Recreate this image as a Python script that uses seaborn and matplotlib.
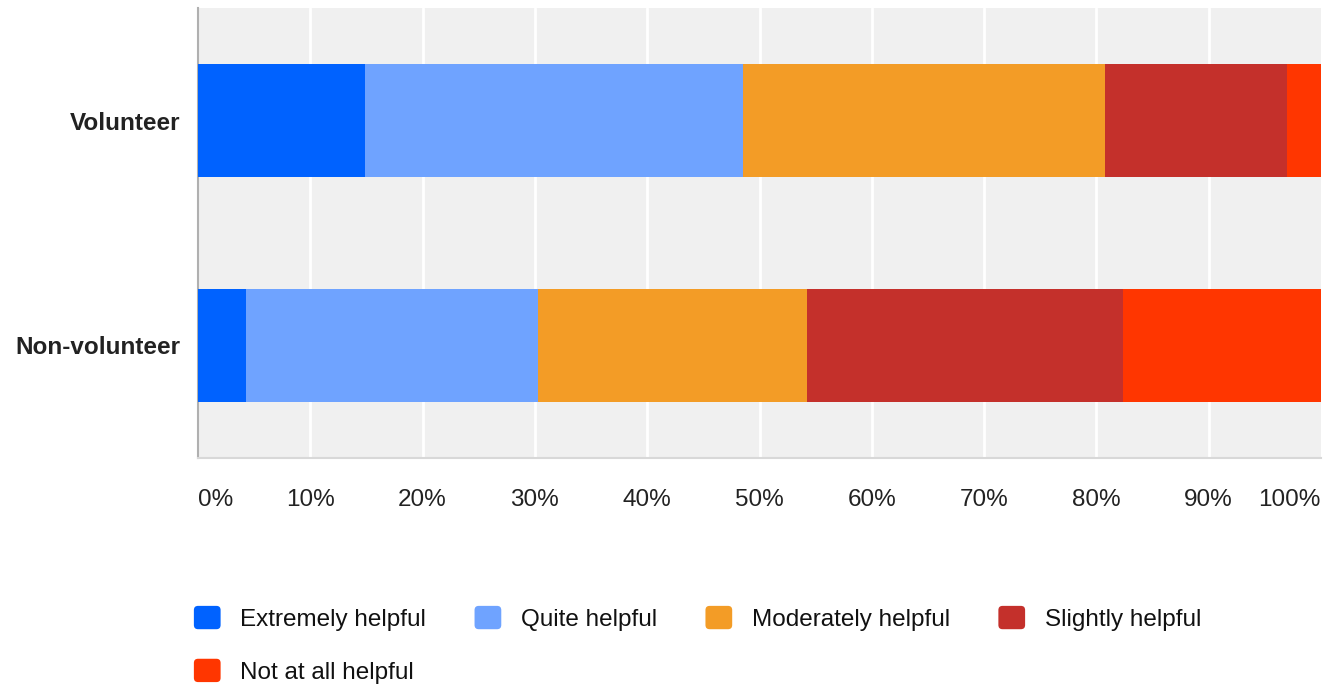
import numpy as np
import pandas as pd
import seaborn as sns
import matplotlib.pyplot as plt
from matplotlib.patches import Patch, FancyBboxPatch
from matplotlib.legend_handler import HandlerPatch

# data (percent of each group)
groups = ["Volunteer", "Non-volunteer"]
answers = ["Extremely helpful", "Quite helpful", "Moderately helpful",
           "Slightly helpful", "Not at all helpful"]
volunteer = [14.9, 33.6, 32.3, 16.2, 3.0]
non_volunteer = [4.3, 26.0, 23.9, 28.2, 17.6]
colors = ["#0062ff", "#6fa3ff", "#f39c26", "#c4302b", "#ff3600"]
ticks = [0, 10, 20, 30, 40, 50, 60, 70, 80, 90, 100]

sns.set_theme(style="white")
plt.rcParams['font.family'] = ['Liberation Sans', 'DejaVu Sans']

df = pd.DataFrame({"group": groups})
for i, a in enumerate(answers):
    df[a] = [volunteer[i], non_volunteer[i]]
cum = df[answers].cumsum(axis=1)
cum["group"] = df["group"]

fig = plt.figure(figsize=(13.39, 6.87), dpi=100)
ax = fig.add_axes([198/1339, 1-458/687, (1321-198)/1339, 450/687])
ax.set_facecolor("#f0f0f0")

# draw stacked bars from the longest cumulative down
for a, c in reversed(list(zip(answers, colors))):
    sns.barplot(data=cum, x=a, y="group", orient="h", color=c,
                width=0.5, saturation=1, ax=ax, linewidth=0, zorder=3)

ax.set_xlim(0, 100)
ax.set_ylim(1.5, -0.5)
ax.set_xticks(ticks)
ax.set_xticklabels([f"{t}%" for t in ticks], fontsize=17.5, color="#222222")
lbls = ax.get_xticklabels()
lbls[0].set_ha("left")
lbls[-1].set_ha("right")
ax.tick_params(axis="x", length=0, pad=22)
ax.tick_params(axis="y", length=0, pad=13)
ax.set_yticklabels(groups, fontsize=17.5, fontweight="bold", color="#222222")
ax.set_xlabel("")
ax.set_ylabel("")
for t in ticks[1:-1]:
    ax.axvline(t, color="white", lw=2, zorder=1)
for s in ["top", "right"]:
    ax.spines[s].set_visible(False)
ax.spines["left"].set_color("#b0b0b0")
ax.spines["left"].set_linewidth(1.5)
ax.spines["bottom"].set_color("#d8d8d8")
ax.spines["bottom"].set_linewidth(1.5)


def rounded(legend, orig_handle, xdescent, ydescent, width, height, fontsize):
    return FancyBboxPatch((-xdescent, -ydescent), width, height,
                          boxstyle="round,pad=0,rounding_size=3")


# legend filled row by row like the original
order = [0, 4, 1, 2, 3]
handles = [Patch(facecolor=colors[i], edgecolor="none") for i in order]
labels = [answers[i] for i in order]
leg = fig.legend(handles, labels, loc="upper left", bbox_to_anchor=(172/1339, 1-584/687),
                 ncol=4, frameon=False, fontsize=17.5, handlelength=1.1, handleheight=1.1,
                 handletextpad=0.8, columnspacing=2.0, labelspacing=1.15,
                 handler_map={Patch: HandlerPatch(patch_func=rounded)})
for t in leg.get_texts():
    t.set_color("#111111")

fig.savefig("out.png", dpi=100)
